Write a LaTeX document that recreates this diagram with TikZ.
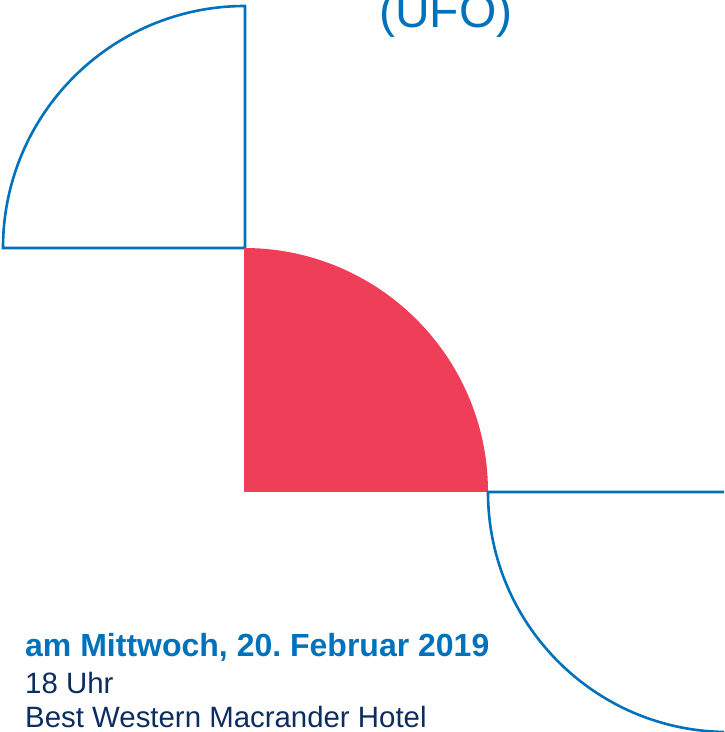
\documentclass[tikz,border=0pt]{standalone}
\usepackage{fontspec}
\setmainfont{Liberation Sans}
\usetikzlibrary{positioning}
\definecolor{ufoBlue}{RGB}{0, 114, 188}
\definecolor{ufoRed}{RGB}{239, 62, 88}
\definecolor{ufoNavy}{RGB}{12, 45, 95}
\frenchspacing

\begin{document}
\begin{tikzpicture}[x=1pt, y=1pt,
    outline/.style={draw=ufoBlue, line width=2.6pt},
    datetext/.style={anchor=base west, inner sep=0pt, text=ufoBlue, font=\fontsize{32}{36}\selectfont\bfseries},
    infotext/.style={anchor=base west, inner sep=0pt, text=ufoNavy, font=\fontsize{29.4}{34}\selectfont}]
\useasboundingbox (0,0) rectangle (724,732);
\clip (0,0) rectangle (724,732);

% Upper quarter
\draw[outline] (3,484) arc (180:90:242) -- (245,484) -- cycle;

% Red quarter
\fill[ufoRed] (244,484) arc (90:0:244) -- (244,240) -- cycle;

% Lower quarter
\draw[outline] (724,240) -- (488,240) arc (180:270:240);

% Title
\node[anchor=base, inner sep=0pt, text=ufoBlue, font=\fontsize{48}{54}\selectfont] (title) at (446,704) {(UFO)};

% Date and place
\node[datetext] (date) at (25,75) {am Mittwoch, 20. Februar 2019};
\node[infotext] (time) at (25,38) {18 Uhr};
\node[infotext] (place) at (25,5) {Best Western Macrander Hotel};
\end{tikzpicture}
\end{document}
